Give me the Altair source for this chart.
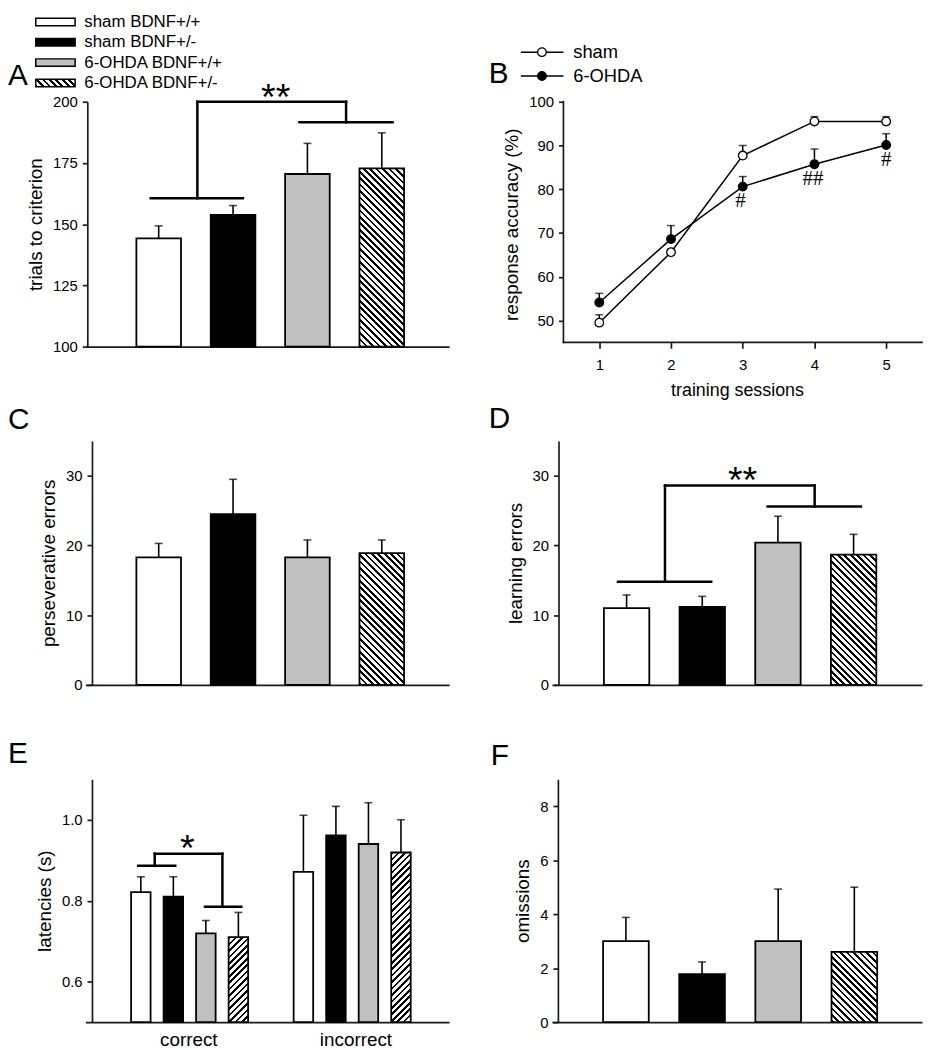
import math
import altair as alt
import pandas as pd

FONT = "Liberation Sans"
SERIF = "Liberation Serif"
INK = "#000000"
AXIS = "#1a1a1a"

# ---------------- data ----------------
groups = ["sham BDNF+/+", "sham BDNF+/-", "6-OHDA BDNF+/+", "6-OHDA BDNF+/-"]
group_pos = [1, 2, 3, 4]
group_fill = ["#ffffff", "#000000", "#c0c0c0", "hatch"]

# A: trials to criterion
a_mean = [144.2, 153.8, 170.5, 172.8]
a_sem = [5.1, 3.8, 12.5, 14.5]
# C: perseverative errors
c_mean = [18.3, 24.5, 18.3, 18.9]
c_sem = [2.0, 5.0, 2.5, 1.9]
# D: learning errors
d_mean = [11.0, 11.2, 20.4, 18.7]
d_sem = [1.9, 1.5, 3.8, 2.9]
# E: latencies
e_conditions = ["correct", "incorrect"]
e_pos = [1, 2, 3, 4, 6, 7, 8, 9]
e_correct_mean = [0.821, 0.810, 0.719, 0.710]
e_correct_sem = [0.038, 0.049, 0.032, 0.061]
e_incorrect_mean = [0.871, 0.961, 0.940, 0.919]
e_incorrect_sem = [0.140, 0.072, 0.102, 0.081]
# F: omissions
f_mean = [3.0, 1.78, 3.0, 2.6]
f_sem = [0.88, 0.45, 1.93, 2.4]
# B: response accuracy over sessions
b_sessions = [1, 2, 3, 4, 5]
b_sham_mean = [49.5, 65.6, 87.7, 95.5, 95.5]
b_sham_sem = [1.8, 0.7, 2.3, 1.1, 1.1]
b_ohda_mean = [54.1, 68.6, 80.6, 85.7, 90.1]
b_ohda_sem = [2.1, 3.1, 2.3, 3.5, 2.6]
b_sig_session = [2.97, 3.98, 5.0]
b_sig_y = [77.4, 82.4, 86.7]
b_sig_text = ["#", "##", "#"]
b_axis_min = 45
b_axis_max = 100

# significance brackets (x, x2, y, y2 in data units)
a_bracket = [(0.893, 2.133, 160.6, 160.6), (1.52, 1.52, 160.6, 200.0), (1.52, 3.52, 200.0, 200.0),
             (3.52, 3.52, 200.0, 191.6), (2.893, 4.146, 191.6, 191.6)]
a_star = (2.573, 196.6, "**")
d_bracket = [(0.886, 2.118, 14.8, 14.8), (1.507, 1.507, 14.8, 28.6), (1.507, 3.485, 28.6, 28.6),
             (3.485, 3.485, 28.6, 25.6), (2.864, 4.096, 25.6, 25.6)]
d_star = (2.533, 27.55, "**")
e_bracket = [(0.918, 2.058, 0.886, 0.886), (1.427, 1.427, 0.886, 0.916), (1.427, 3.509, 0.916, 0.916),
             (3.509, 3.509, 0.916, 0.785), (2.973, 4.089, 0.785, 0.785)]
e_star = (2.433, 0.898, "*")


# ---------------- helpers ----------------
def hatch(w, h, direction, period=4.6, line=1.9):
    c = (w + h) / (w * w + h * h)
    if direction == "back":
        x1, y1, x2, y2 = 0.0, 1.0, c * w, 1.0 - c * h
    else:
        x1, y1, x2, y2 = 0.0, 0.0, c * w, c * h
    L = (w + h) / math.sqrt(2.0)
    stops = []
    k = 0
    while k * period < L:
        a = k * period / L
        b = min((k * period + line) / L, 1.0)
        e = min((k + 1) * period / L, 1.0)
        stops += [dict(offset=round(a, 5), color="#000000"), dict(offset=round(b, 5), color="#000000"),
                  dict(offset=round(b, 5), color="#ffffff"), dict(offset=round(e, 5), color="#ffffff")]
        k += 1
    return dict(gradient="linear", x1=round(x1, 5), y1=round(y1, 5), x2=round(x2, 5), y2=round(y2, 5), stops=stops)


def make_cfg(w, h, xdom, ydom, yvals, yoff, ytitle, xaxis, yfmt=None, ydomain_line=True):
    ya = dict(values=yvals, tickSize=5, labelPadding=5, offset=yoff, title=ytitle, titlePadding=7,
              domain=ydomain_line)
    if yfmt:
        ya["format"] = yfmt
    return dict(w=w, h=h, xdom=xdom, ydom=ydom,
                xs=alt.Scale(domain=xdom, nice=False, zero=False),
                ys=alt.Scale(domain=ydom, nice=False, zero=False),
                xa=xaxis, ya=alt.Axis(**ya))


def ex(cfg, field):
    return alt.X(field, type="quantitative", scale=cfg["xs"], axis=cfg["xa"])


def ey(cfg, field):
    return alt.Y(field, type="quantitative", scale=cfg["ys"], axis=cfg["ya"])


bar_xaxis = alt.Axis(labels=False, ticks=False, tickSize=0, title=None, domain=True)


def bar_layers(cfg, pos, means, sems, fills, hatch_dir):
    df = pd.DataFrame({"pos": pos, "mean": means, "sem": sems, "fill": fills})
    df["top"] = df["mean"] + df["sem"]
    df["base"] = cfg["ydom"][0]
    half = 0.3
    step = cfg["w"] / (cfg["xdom"][1] - cfg["xdom"][0])
    layers = []
    layers.append(
        alt.Chart(df).mark_rule(color=INK, strokeWidth=1.6).encode(
            x=ex(cfg, "pos"), y=ey(cfg, "mean"), y2=alt.Y2("top")))
    layers.append(
        alt.Chart(df).mark_tick(orient="horizontal", color=INK, size=8, thickness=1.6).encode(
            x=ex(cfg, "pos"), y=ey(cfg, "top")))
    solid = df[df["fill"] != "hatch"]
    layers.append(
        alt.Chart(solid).transform_calculate(x0=f"datum.pos - {half}", x1=f"datum.pos + {half}")
        .mark_rect(stroke=INK, strokeWidth=1.8)
        .encode(x=ex(cfg, "x0"), x2=alt.X2("x1"), y=ey(cfg, "mean"), y2=alt.Y2("base"),
                fill=alt.Fill("fill:N", scale=None)))
    hat = df[df["fill"] == "hatch"]
    for i in range(len(hat)):
        one = hat.iloc[[i]]
        m = float(one["mean"].iloc[0])
        hpx = (m - cfg["ydom"][0]) / (cfg["ydom"][1] - cfg["ydom"][0]) * cfg["h"]
        wpx = 2 * half * step
        layers.append(
            alt.Chart(one).transform_calculate(x0=f"datum.pos - {half}", x1=f"datum.pos + {half}")
            .mark_rect(fill=hatch(wpx, hpx, hatch_dir), stroke=INK, strokeWidth=1.8)
            .encode(x=ex(cfg, "x0"), x2=alt.X2("x1"), y=ey(cfg, "mean"), y2=alt.Y2("base")))
    return layers


def bracket_layers(cfg, segs, star):
    df = pd.DataFrame(segs, columns=["x", "x2", "y", "y2"])
    sdf = pd.DataFrame({"x": [star[0]], "y": [star[1]], "t": [star[2]]})
    return [
        alt.Chart(df).mark_rule(color=INK, strokeWidth=2.5, strokeCap="square").encode(
            x=ex(cfg, "x"), x2=alt.X2("x2"), y=ey(cfg, "y"), y2=alt.Y2("y2")),
        alt.Chart(sdf).mark_text(font=FONT, fontSize=38, baseline="alphabetic", align="center", color=INK).encode(
            x=ex(cfg, "x"), y=ey(cfg, "y"), text="t:N"),
    ]


def letter(t, x, y):
    return alt.Chart(pd.DataFrame({"t": [t]})).mark_text(
        font=FONT, fontSize=30, align="left", baseline="middle", color=INK).encode(
        x=alt.value(x), y=alt.value(y), text="t:N")


LEFT_W = 367
RIGHT_W = 373.3
ROW1_H = 247

# ---------------- panel A ----------------
cfgA = make_cfg(LEFT_W, ROW1_H, [0.0133, 4.906], [100, 200], [100, 125, 150, 175, 200], -2,
                "trials to criterion", bar_xaxis)
layersA = bar_layers(cfgA, group_pos, a_mean, a_sem, group_fill, "back")
layersA += bracket_layers(cfgA, a_bracket, a_star)
layersA.append(letter("A", -78, -26))
legend_rows = [-80.5, -60.0, -39.5, -19.0]
for g, f, yc in zip(groups, group_fill, legend_rows):
    one = pd.DataFrame({"t": [g]})
    fill = hatch(39.7, 7.5, "back") if f == "hatch" else f
    layersA.append(alt.Chart(one).mark_rect(fill=fill, stroke=INK, strokeWidth=1.5).encode(
        x=alt.value(-50), x2=alt.value(-10.3), y=alt.value(yc - 3.75), y2=alt.value(yc + 3.75)))
    layersA.append(alt.Chart(one).mark_text(font=FONT, fontSize=17, align="left", baseline="middle", color=INK)
                   .encode(x=alt.value(-1), y=alt.value(yc), text="t:N"))
panelA = alt.layer(*layersA).properties(width=cfgA["w"], height=cfgA["h"])

# ---------------- panel B ----------------
b_px_per_unit = 242.7 / (b_axis_max - b_axis_min)
b_ymin = b_axis_max - ROW1_H / b_px_per_unit
b_xaxis = alt.Axis(values=b_sessions, format="d", tickSize=6, labelPadding=9, title="training sessions",
                   titleFontSize=18, titlePadding=10, domain=False, offset=-(ROW1_H - 242.7))
cfgB = make_cfg(RIGHT_W, ROW1_H, [0.34, 5.5], [b_ymin, b_axis_max], [50, 60, 70, 80, 90, 100], -11.6,
                "response accuracy (%)", b_xaxis, ydomain_line=False)
b_df = pd.DataFrame({
    "session": b_sessions * 2,
    "group": ["sham"] * 5 + ["6-OHDA"] * 5,
    "mean": b_sham_mean + b_ohda_mean,
    "sem": b_sham_sem + b_ohda_sem,
})
b_df["top"] = b_df["mean"] + b_df["sem"]
b_frame_x = pd.DataFrame({"x": [0.5], "x2": [5.5], "y": [b_axis_min]})
b_frame_y = pd.DataFrame({"x": [0.5], "y": [b_axis_min], "y2": [b_axis_max]})
fill_scale = alt.Scale(domain=["sham", "6-OHDA"], range=["#ffffff", "#000000"])
layersB = [
    alt.Chart(b_frame_x).mark_rule(color=AXIS, strokeWidth=1.7, strokeCap="square").encode(
        x=ex(cfgB, "x"), x2=alt.X2("x2"), y=ey(cfgB, "y")),
    alt.Chart(b_frame_y).mark_rule(color=AXIS, strokeWidth=1.7, strokeCap="square").encode(
        x=ex(cfgB, "x"), y=ey(cfgB, "y"), y2=alt.Y2("y2")),
    alt.Chart(b_df).mark_line(color=INK, strokeWidth=1.5).encode(
        x=ex(cfgB, "session"), y=ey(cfgB, "mean"), detail="group:N"),
    alt.Chart(b_df).mark_rule(color=INK, strokeWidth=1.5).encode(
        x=ex(cfgB, "session"), y=ey(cfgB, "mean"), y2=alt.Y2("top")),
    alt.Chart(b_df).mark_tick(orient="horizontal", color=INK, size=8, thickness=1.5).encode(
        x=ex(cfgB, "session"), y=ey(cfgB, "top")),
    alt.Chart(b_df).mark_point(shape="circle", filled=True, size=75, stroke=INK, strokeWidth=1.3, opacity=1).encode(
        x=ex(cfgB, "session"), y=ey(cfgB, "mean"), fill=alt.Fill("group:N", scale=fill_scale, legend=None)),
    alt.Chart(pd.DataFrame({"x": b_sig_session, "y": b_sig_y, "t": b_sig_text})).mark_text(
        font=SERIF, fontSize=21, baseline="middle", align="center", color=INK).encode(
        x=ex(cfgB, "x"), y=ey(cfgB, "y"), text="t:N"),
    letter("B", -63.7, -27.5),
]
for name, fc, yc in [("sham", "#ffffff", -50), ("6-OHDA", "#000000", -26)]:
    one = pd.DataFrame({"t": [name]})
    layersB.append(alt.Chart(one).mark_rule(color=INK, strokeWidth=1.5).encode(
        x=alt.value(-31.4), x2=alt.value(11.6), y=alt.value(yc)))
    layersB.append(alt.Chart(one).mark_point(shape="circle", filled=True, size=75, fill=fc, stroke=INK,
                                              strokeWidth=1.3, opacity=1).encode(
        x=alt.value(-10.1), y=alt.value(yc)))
    layersB.append(alt.Chart(one).mark_text(font=FONT, fontSize=18.5, align="left", baseline="middle", color=INK)
                   .encode(x=alt.value(21.5), y=alt.value(yc), text="t:N"))
panelB = alt.layer(*layersB).properties(width=cfgB["w"], height=cfgB["h"])

# ---------------- panel C ----------------
cfgC = make_cfg(LEFT_W, 246, [0.0133, 4.906], [0, 35], [0, 10, 20, 30], -6.7, "perseverative errors", bar_xaxis)
layersC = bar_layers(cfgC, group_pos, c_mean, c_sem, group_fill, "back")
layersC.append(letter("C", -78, -21))
panelC = alt.layer(*layersC).properties(width=cfgC["w"], height=cfgC["h"])

# ---------------- panel D ----------------
cfgD = make_cfg(RIGHT_W, 246, [0.0135, 4.904], [0, 35], [0, 10, 20, 30], -6.6, "learning errors", bar_xaxis)
layersD = bar_layers(cfgD, group_pos, d_mean, d_sem, group_fill, "back")
layersD += bracket_layers(cfgD, d_bracket, d_star)
layersD.append(letter("D", -63.7, -22))
panelD = alt.layer(*layersD).properties(width=cfgD["w"], height=cfgD["h"])

# ---------------- panel E ----------------
e_xaxis = alt.Axis(values=[2.46, 7.6], labelExpr="datum.value < 5 ? 'correct' : 'incorrect'",
                   ticks=False, tickSize=0, labelFontSize=19, labelPadding=9, title=None, domain=True)
cfgE = make_cfg(LEFT_W, 245, [-0.707, 10.482], [0.5, 1.1], [0.6, 0.8, 1.0], -6.7, "latencies (s)", e_xaxis,
                yfmt=".1f")
layersE = bar_layers(cfgE, e_pos, e_correct_mean + e_incorrect_mean, e_correct_sem + e_incorrect_sem,
                     group_fill + group_fill, "fwd")
layersE += bracket_layers(cfgE, e_bracket, e_star)
layersE.append(letter("E", -78, -25))
panelE = alt.layer(*layersE).properties(width=cfgE["w"], height=cfgE["h"])

# ---------------- panel F ----------------
cfgF = make_cfg(RIGHT_W, 245, [0.0286, 4.889], [0, 9], [0, 2, 4, 6, 8], -6, "omissions", bar_xaxis)
layersF = bar_layers(cfgF, group_pos, f_mean, f_sem, group_fill, "back")
layersF.append(letter("F", -61.7, -23))
panelF = alt.layer(*layersF).properties(width=cfgF["w"], height=cfgF["h"])

chart = (
    alt.concat(panelA, panelB, panelC, panelD, panelE, panelF, columns=2, bounds="flush",
               spacing={"row": 95.2, "column": 103.7})
    .properties(padding=0)
    .configure_view(stroke=None)
    .configure_axis(grid=False, labelFont=FONT, titleFont=FONT, labelFontSize=15, titleFontSize=19,
                    labelColor=INK, titleColor=INK, titleFontWeight="normal", domainColor=AXIS,
                    tickColor=AXIS, domainWidth=1.7, tickWidth=1.7)
)

chart.save("out.html", embed_options={"renderer": "svg", "actions": False})
